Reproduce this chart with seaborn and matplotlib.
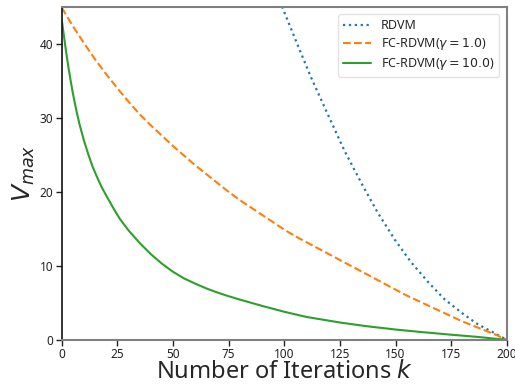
import numpy as np
import pandas as pd
import matplotlib
matplotlib.use("Agg")
import matplotlib.pyplot as plt
import seaborn as sns

# Data
rdvm_x = [98, 105, 112, 120, 127, 135, 142, 150, 157, 165, 172, 180, 187, 194, 200]
rdvm_y = [45.8, 40.6, 35.5, 30.2, 25.6, 21.0, 17.2, 13.4, 10.5, 7.7, 5.5, 3.6, 2.1, 1.0, 0.0]

fc1_x = [0, 5, 10, 15, 20, 25, 30, 35, 40, 45, 50, 55, 60, 65, 70, 75, 80, 85, 90, 95,
         100, 105, 110, 115, 120, 125, 130, 135, 140, 145, 150, 155, 160, 165, 170, 175,
         180, 185, 190, 195, 200]
fc1_y = [44.9, 42.4, 40.1, 37.9, 35.9, 34.0, 32.2, 30.5, 29.0, 27.6, 26.2, 24.9, 23.6,
         22.4, 21.2, 20.0, 18.9, 17.9, 16.9, 15.9, 14.9, 14.0, 13.2, 12.4, 11.6, 10.8,
         10.0, 9.2, 8.4, 7.6, 6.8, 6.0, 5.3, 4.6, 3.9, 3.2, 2.5, 1.9, 1.3, 0.7, 0.0]

fc10_x = [0, 1, 2, 3, 4, 5, 6, 7, 8, 10, 12, 14, 16, 18, 20, 23, 26, 30, 35, 40, 45, 50,
          55, 60, 65, 70, 75, 80, 90, 100, 110, 125, 137, 150, 162, 175, 187, 200]
fc10_y = [43.2, 41.0, 38.8, 36.8, 35.0, 33.3, 31.8, 30.4, 29.1, 26.9, 25.0, 23.3, 21.9,
          20.6, 19.5, 17.9, 16.4, 14.8, 13.1, 11.6, 10.3, 9.2, 8.3, 7.6, 6.95, 6.4, 5.9,
          5.45, 4.6, 3.8, 3.1, 2.35, 1.85, 1.4, 1.05, 0.7, 0.4, 0.0]

labels = ["RDVM", r"FC-RDVM($\gamma=1.0$)", r"FC-RDVM($\gamma=10.0$)"]
xticks = [0, 25, 50, 75, 100, 125, 150, 175, 200]
yticks = [0, 10, 20, 30, 40]

sns.set_theme(style="ticks")
plt.rcParams['font.family'] = ['Noto Sans', 'DejaVu Sans']
plt.rcParams['axes.unicode_minus'] = False

pal = sns.color_palette("tab10")
fig = plt.figure(figsize=(5.15, 3.88), dpi=100)
ax = fig.add_axes([0.120, 0.124, 0.864, 0.858])

sns.lineplot(x=rdvm_x, y=rdvm_y, ax=ax, color=pal[0], linestyle=":", linewidth=1.6, label=labels[0])
sns.lineplot(x=fc1_x, y=fc1_y, ax=ax, color=pal[1], linestyle="--", linewidth=1.5, label=labels[1])
sns.lineplot(x=fc10_x, y=fc10_y, ax=ax, color=pal[2], linestyle="-", linewidth=1.5, label=labels[2])

ax.set_xlim(0, 200)
ax.set_ylim(0, 45)
ax.set_xticks(xticks)
ax.set_yticks(yticks)
ax.tick_params(labelsize=8.5, length=4, width=1, colors="#222222", pad=2)

for side in ["top", "right", "bottom"]:
    ax.spines[side].set_color("#808080")
    ax.spines[side].set_linewidth(1.5)
ax.spines["left"].set_color("#111111")
ax.spines["left"].set_linewidth(1.2)

ax.set_xlabel(r"Number of Iterations $k$", fontsize=17, labelpad=-1)
ax.set_ylabel(r"$V_{max}$", fontsize=18, labelpad=2)

leg = ax.legend(loc="upper right", fontsize=9, frameon=True, fancybox=True,
                edgecolor="#dddddd", handlelength=2.2, labelspacing=0.3,
                borderaxespad=0.6)

fig.savefig("out.png", dpi=100)
